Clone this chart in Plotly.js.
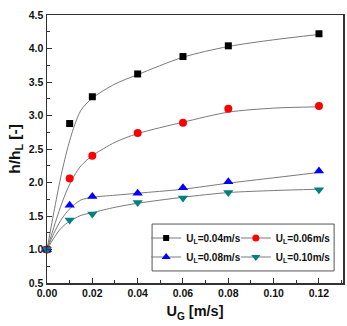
<!DOCTYPE html>
<html>
<head>
<meta charset="utf-8">
<script src="https://cdn.plot.ly/plotly-3.0.1.min.js"></script>
<style>
  html, body { margin: 0; padding: 0; background: #fff; }
  #chart { width: 347px; height: 326px; }
</style>
</head>
<body>
<div id="chart"></div>
<script>
// Measured points: gas velocity U_G [m/s] vs. relative height h/h_L [-]
const ugPoints = [0, 0.01, 0.02, 0.04, 0.06, 0.08, 0.12];
const hUL004 = [1.00, 2.88, 3.28, 3.62, 3.88, 4.04, 4.22];
const hUL006 = [1.00, 2.06, 2.40, 2.74, 2.89, 3.10, 3.14];
const hUL008 = [1.00, 1.66, 1.79, 1.84, 1.92, 2.01, 2.17];
const hUL010 = [1.00, 1.44, 1.53, 1.70, 1.77, 1.85, 1.89];

// Fitted trend curves, sampled along U_G
const ugCurve = [0, 0.003, 0.006, 0.009, 0.012, 0.015, 0.02, 0.03, 0.04, 0.06, 0.08, 0.10, 0.12];
const fitUL004 = [1.00, 1.55, 2.07, 2.50, 2.84, 3.08, 3.26, 3.47, 3.61, 3.87, 4.03, 4.13, 4.21];
const fitUL006 = [1.00, 1.33, 1.64, 1.90, 2.10, 2.25, 2.40, 2.60, 2.73, 2.90, 3.05, 3.11, 3.13];
const fitUL008 = [1.00, 1.24, 1.43, 1.57, 1.67, 1.74, 1.78, 1.81, 1.84, 1.90, 1.99, 2.07, 2.15];
const fitUL010 = [1.00, 1.17, 1.31, 1.40, 1.46, 1.51, 1.55, 1.63, 1.69, 1.78, 1.85, 1.88, 1.90];

const seriesNames = ['U<sub>L</sub>=0.04m/s', 'U<sub>L</sub>=0.06m/s', 'U<sub>L</sub>=0.08m/s', 'U<sub>L</sub>=0.10m/s'];
const seriesColors = ['#000000', '#ff0000', '#0000ff', '#008080'];
const seriesSymbols = ['square', 'circle', 'triangle-up', 'triangle-down'];
const seriesSizes = [7, 8, 9, 9];
// Two-column legend: left column holds series 0 and 2, right column 1 and 3
const legendColumn = ['legend', 'legend2', 'legend', 'legend2'];

const pointSets = [hUL004, hUL006, hUL008, hUL010];
const fitSets = [fitUL004, fitUL006, fitUL008, fitUL010];

const curveColor = '#7a7a7a';
const traces = [];

fitSets.forEach(function (ys) {
  traces.push({
    x: ugCurve, y: ys, type: 'scatter', mode: 'lines',
    line: { color: curveColor, width: 1, shape: 'spline', smoothing: 0.8 },
    showlegend: false, hoverinfo: 'skip'
  });
});

pointSets.forEach(function (ys, i) {
  traces.push({
    x: ugPoints, y: ys, type: 'scatter', mode: 'markers',
    marker: { color: seriesColors[i], symbol: seriesSymbols[i], size: seriesSizes[i] },
    cliponaxis: false, showlegend: false
  });
});

// Legend entries: line with marker in the middle
seriesNames.forEach(function (name, i) {
  traces.push({
    x: [null], y: [null], type: 'scatter', mode: 'lines+markers', name: name,
    legend: legendColumn[i],
    line: { color: curveColor, width: 1 },
    marker: { color: seriesColors[i], symbol: seriesSymbols[i], size: seriesSizes[i] - 1 }
  });
});

const fontFamily = 'Liberation Sans, Arial, sans-serif';
const tickFont = { family: fontFamily, size: 10.5, color: '#111', weight: 'bold' };
const legendFont = { family: fontFamily, size: 10, color: '#111', weight: 'bold' };

function legendColumnStyle(xPos) {
  return {
    orientation: 'v', x: xPos, y: 0.222, xanchor: 'left', yanchor: 'top',
    bgcolor: 'rgba(0,0,0,0)', borderwidth: 0, font: legendFont,
    tracegroupgap: 0, traceorder: 'normal'
  };
}

const layout = {
  width: 347, height: 326,
  margin: { l: 47, r: 4, t: 15, b: 43 },
  paper_bgcolor: '#fff', plot_bgcolor: '#fff',
  showlegend: true,
  legend: legendColumnStyle(0.335),
  legend2: legendColumnStyle(0.638),
  shapes: [{
    type: 'rect', xref: 'paper', yref: 'paper',
    x0: 0.355, x1: 0.970, y0: 0.045, y1: 0.220,
    line: { color: '#555', width: 1 }, fillcolor: 'rgba(0,0,0,0)', layer: 'above'
  }],
  xaxis: {
    range: [0, 0.1306], dtick: 0.02, tick0: 0, tickformat: '.2f',
    ticks: 'inside', ticklen: 5, tickwidth: 1, tickcolor: '#333',
    minor: { dtick: 0.01, ticks: 'inside', ticklen: 3, tickwidth: 1, tickcolor: '#333' },
    showline: true, linecolor: '#333', linewidth: 1.5, mirror: true,
    showgrid: false, zeroline: false,
    tickfont: tickFont,
    title: { text: '<b>U<sub>G</sub> [m/s]</b>', font: { family: fontFamily, size: 14.5, color: '#111' }, standoff: 8 }
  },
  yaxis: {
    range: [0.5, 4.5], dtick: 0.5, tick0: 0.5, tickformat: '.1f',
    ticks: 'inside', ticklen: 5, tickwidth: 1, tickcolor: '#333',
    minor: { dtick: 0.25, ticks: 'inside', ticklen: 3, tickwidth: 1, tickcolor: '#333' },
    showline: true, linecolor: '#333', linewidth: 1.5, mirror: true,
    showgrid: false, zeroline: false,
    tickfont: tickFont,
    title: { text: '<b>h/h<sub>L</sub> [-]</b>', font: { family: fontFamily, size: 15.5, color: '#111' }, standoff: 4 }
  }
};

Plotly.newPlot('chart', traces, layout, { displayModeBar: false, staticPlot: true });
</script>
</body>
</html>
